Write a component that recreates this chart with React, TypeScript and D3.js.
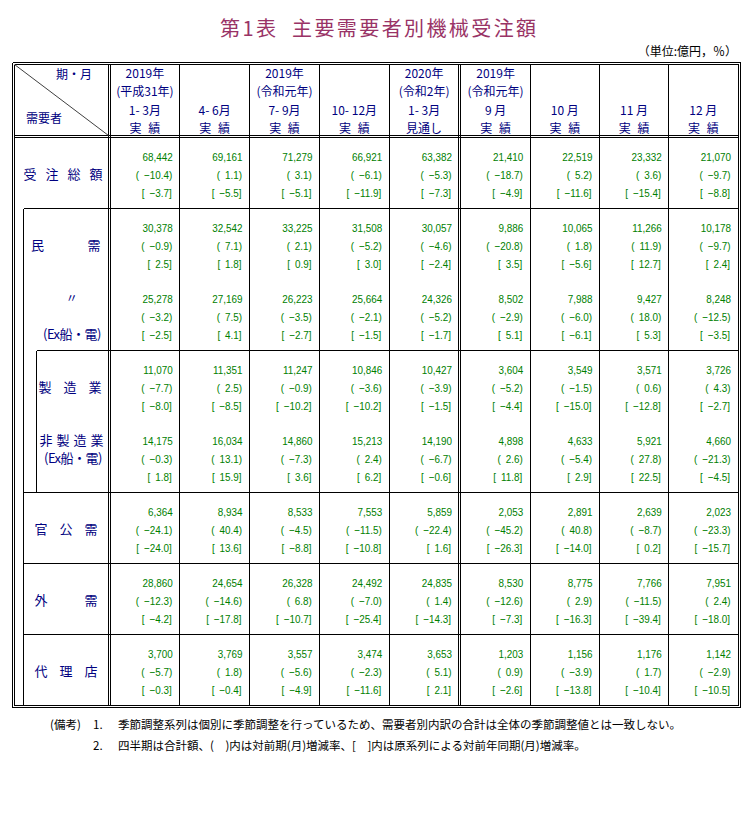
import React from "react";
import * as d3 from "d3";

// ---------- column header texts ----------
const yearLabels = ["2019年", "", "2019年", "", "2020年", "2019年", "", "", ""];
const eraLabels = ["(平成31年)", "", "(令和元年)", "", "(令和2年)", "(令和元年)", "", "", ""];
const periodLabels = ["1- 3月", "4- 6月", "7- 9月", "10- 12月", "1- 3月", "9 月", "10 月", "11 月", "12 月"];
const statusLabels = ["実 績", "実 績", "実 績", "実 績", "見通し", "実 績", "実 績", "実 績", "実 績"];

// ---------- row keys ----------
const rowKeys = ["total", "private", "privateEx", "mfg", "nonmfg", "public", "foreign", "agency"];

// ---------- values (億円, %) ----------
const totalAmount = [68442, 69161, 71279, 66921, 63382, 21410, 22519, 23332, 21070];
const totalQoQ = [-10.4, 1.1, 3.1, -6.1, -5.3, -18.7, 5.2, 3.6, -9.7];
const totalYoY = [-3.7, -5.5, -5.1, -11.9, -7.3, -4.9, -11.6, -15.4, -8.8];

const privateAmount = [30378, 32542, 33225, 31508, 30057, 9886, 10065, 11266, 10178];
const privateQoQ = [-0.9, 7.1, 2.1, -5.2, -4.6, -20.8, 1.8, 11.9, -9.7];
const privateYoY = [2.5, 1.8, 0.9, 3.0, -2.4, 3.5, -5.6, 12.7, 2.4];

const privateExAmount = [25278, 27169, 26223, 25664, 24326, 8502, 7988, 9427, 8248];
const privateExQoQ = [-3.2, 7.5, -3.5, -2.1, -5.2, -2.9, -6.0, 18.0, -12.5];
const privateExYoY = [-2.5, 4.1, -2.7, -1.5, -1.7, 5.1, -6.1, 5.3, -3.5];

const mfgAmount = [11070, 11351, 11247, 10846, 10427, 3604, 3549, 3571, 3726];
const mfgQoQ = [-7.7, 2.5, -0.9, -3.6, -3.9, -5.2, -1.5, 0.6, 4.3];
const mfgYoY = [-8.0, -8.5, -10.2, -10.2, -1.5, -4.4, -15.0, -12.8, -2.7];

const nonmfgAmount = [14175, 16034, 14860, 15213, 14190, 4898, 4633, 5921, 4660];
const nonmfgQoQ = [-0.3, 13.1, -7.3, 2.4, -6.7, 2.6, -5.4, 27.8, -21.3];
const nonmfgYoY = [1.8, 15.9, 3.6, 6.2, -0.6, 11.8, 2.9, 22.5, -4.5];

const publicAmount = [6364, 8934, 8533, 7553, 5859, 2053, 2891, 2639, 2023];
const publicQoQ = [-24.1, 40.4, -4.5, -11.5, -22.4, -45.2, 40.8, -8.7, -23.3];
const publicYoY = [-24.0, 13.6, -8.8, -10.8, 1.6, -26.3, -14.0, 0.2, -15.7];

const foreignAmount = [28860, 24654, 26328, 24492, 24835, 8530, 8775, 7766, 7951];
const foreignQoQ = [-12.3, -14.6, 6.8, -7.0, 1.4, -12.6, 2.9, -11.5, 2.4];
const foreignYoY = [-4.2, -17.8, -10.7, -25.4, -14.3, -7.3, -16.3, -39.4, -18.0];

const agencyAmount = [3700, 3769, 3557, 3474, 3653, 1203, 1156, 1176, 1142];
const agencyQoQ = [-5.7, 1.8, -5.6, -2.3, 5.1, 0.9, -3.9, 1.7, -2.9];
const agencyYoY = [-0.3, -0.4, -4.9, -11.6, 2.1, -2.6, -13.8, -10.4, -10.5];

// ---------- texts ----------
const titleText = "第1表  主要需要者別機械受注額";
const unitText = "（単位:億円，％）";
const note1 = "季節調整系列は個別に季節調整を行っているため、需要者別内訳の合計は全体の季節調整値とは一致しない。";
const note2 = "四半期は合計額、(　)内は対前期(月)増減率、[　]内は原系列による対前年同期(月)増減率。";

const FONT_JP = "'Noto Sans CJK JP', 'Noto Sans', sans-serif";
const FONT_NUM = "'Liberation Sans', Arial, sans-serif";
const NAVY = "#000080";
const GREEN = "#008000";
const TITLE = "#993366";

const rows = [
  { key: "total", amt: totalAmount, qoq: totalQoQ, yoy: totalYoY },
  { key: "private", amt: privateAmount, qoq: privateQoQ, yoy: privateYoY },
  { key: "privateEx", amt: privateExAmount, qoq: privateExQoQ, yoy: privateExYoY },
  { key: "mfg", amt: mfgAmount, qoq: mfgQoQ, yoy: mfgYoY },
  { key: "nonmfg", amt: nonmfgAmount, qoq: nonmfgQoQ, yoy: nonmfgYoY },
  { key: "public", amt: publicAmount, qoq: publicQoQ, yoy: publicYoY },
  { key: "foreign", amt: foreignAmount, qoq: foreignQoQ, yoy: foreignYoY },
  { key: "agency", amt: agencyAmount, qoq: agencyQoQ, yoy: agencyYoY },
];

const fmtAmt = d3.format(",");
const fmtPct = (v: number) => {
  const s = d3.format(".1f")(Math.abs(v));
  return (v < 0 ? "\u2212" : "") + s;
};

const px = (v: number) => Math.floor(v) + 0.5;

function Spread({ chars, x0, x1, y, size = 13 }: { chars: string[]; x0: number; x1: number; y: number; size?: number }) {
  const s = d3.scalePoint<number>().domain(d3.range(chars.length)).range([x0, x1]);
  return (
    <g>
      {chars.map((c, i) => (
        <text key={i} x={s(i)} y={y} textAnchor="middle" fontFamily={FONT_JP} fontSize={size} fill={NAVY}>
          {c}
        </text>
      ))}
    </g>
  );
}

export default function App() {
  const W = 753;
  const H = 820;

  // scales
  const xQ = d3.scaleBand<number>().domain(d3.range(0, 5)).range([110, 459]);
  const xM = d3.scaleBand<number>().domain(d3.range(5, 9)).range([461, 738]);
  const colX = (i: number) => (i < 5 ? (xQ(i) as number) : (xM(i) as number));
  const colW = (i: number) => (i < 5 ? xQ.bandwidth() : xM.bandwidth());
  const y = d3.scaleBand<string>().domain(rowKeys).range([137, 705]);
  const yy = (k: string) => y(k) as number;
  const lineOff = [24, 42, 60];
  const padR = [7, 7.5, 8];

  const left0 = 12, left1 = 14, right1 = 738, right0 = 740;
  const top0 = 62, top1 = 64, bot1 = 705, bot0 = 707;
  const headBot = 135, headBot2 = 137;
  const stubA = 108, stubB = 110;
  const sepA = 458, sepB = 460;
  const indent1 = 23, indent2 = 36;

  type Seg = { x1: number; y1: number; x2: number; y2: number };
  const segs: Seg[] = [];
  // outer double border
  [[left0, top0, right0, bot0], [left1, top1, right1, bot1]].forEach(([a, b, c, d]) => {
    segs.push({ x1: px(a), y1: px(b), x2: px(c), y2: px(b) });
    segs.push({ x1: px(a), y1: px(d), x2: px(c), y2: px(d) });
    segs.push({ x1: px(a), y1: px(b), x2: px(a), y2: px(d) });
    segs.push({ x1: px(c), y1: px(b), x2: px(c), y2: px(d) });
  });
  // header bottom double
  [headBot, headBot2].forEach((v) => segs.push({ x1: px(left1), y1: px(v), x2: px(right1), y2: px(v) }));
  // stub double & block separator double
  [stubA, stubB, sepA, sepB].forEach((v) => segs.push({ x1: px(v), y1: px(top1), x2: px(v), y2: px(bot1) }));
  // inner column lines
  d3.range(1, 5).forEach((i) => segs.push({ x1: px(colX(i)), y1: px(top1), x2: px(colX(i)), y2: px(bot1) }));
  d3.range(6, 9).forEach((i) => segs.push({ x1: px(colX(i)), y1: px(top1), x2: px(colX(i)), y2: px(bot1) }));
  // row lines
  const rowLineStart: Record<string, number> = { private: indent1, mfg: indent2, public: indent1, foreign: indent1, agency: indent1 };
  Object.keys(rowLineStart).forEach((k) => {
    segs.push({ x1: px(rowLineStart[k]), y1: px(yy(k)), x2: px(right1), y2: px(yy(k)) });
  });
  // stub indent verticals
  segs.push({ x1: px(indent1), y1: px(yy("private")), x2: px(indent1), y2: px(bot1) });
  segs.push({ x1: px(indent2), y1: px(yy("mfg")), x2: px(indent2), y2: px(yy("public")) });

  const headerY = [77.5, 95.5, 114.5, 132.8];
  const headerLines = [yearLabels, eraLabels, periodLabels, statusLabels];

  return (
    <svg width={W} height={H} style={{ position: "absolute", left: 0, top: 0, background: "#fff" }}>
      <rect x={0} y={0} width={W} height={H} fill="#fff" />
      {/* title */}
      <text x={220} y={36} fontFamily={FONT_JP} fontSize={20} letterSpacing={2.4} fill={TITLE} style={{ whiteSpace: "pre" }}>
        {titleText}
      </text>
      <text x={737} y={56} textAnchor="end" fontFamily={FONT_JP} fontSize={12} fill="#000">
        {unitText}
      </text>

      {/* grid */}
      <g stroke="#000" strokeWidth={1} shapeRendering="crispEdges">
        {segs.map((s, i) => (
          <line key={i} x1={s.x1} y1={s.y1} x2={s.x2} y2={s.y2} />
        ))}
      </g>
      <line x1={left1 + 0.5} y1={top1 + 0.5} x2={stubA + 0.5} y2={headBot + 0.5} stroke="#404040" strokeWidth={1} />

      {/* header stub */}
      <text x={92} y={78.5} textAnchor="end" fontFamily={FONT_JP} fontSize={12} fill={NAVY}>期・月</text>
      <text x={26} y={122.5} fontFamily={FONT_JP} fontSize={12} fill={NAVY}>需要者</text>

      {/* column headers */}
      {d3.range(9).map((i) =>
        headerLines.map((arr, li) =>
          arr[i] ? (
            <text
              key={`h${i}-${li}`}
              x={colX(i) + colW(i) / 2}
              y={headerY[li]}
              textAnchor="middle"
              fontFamily={FONT_JP}
              fontSize={12}
              fill={NAVY}
              wordSpacing={li === 3 ? 4 : 0}
              style={{ whiteSpace: "pre" }}
            >
              {arr[i]}
            </text>
          ) : null
        )
      )}

      {/* stub labels */}
      <Spread chars={["受", "注", "総", "額"]} x0={30} x1={96} y={yy("total") + 42} />
      <Spread chars={["民", "需"]} x0={37.5} x1={94} y={yy("private") + 42} />
      <text x={71.7} y={yy("privateEx") + 24} textAnchor="middle" fontFamily={FONT_JP} fontSize={12} fill={NAVY}>〃</text>
      <text x={101} y={yy("privateEx") + 60} textAnchor="end" fontFamily={FONT_JP} fontSize={13} letterSpacing={-0.5} fill={NAVY}>(Ex船・電)</text>
      <Spread chars={["製", "造", "業"]} x0={45} x1={95} y={yy("mfg") + 42} />
      <Spread chars={["非", "製", "造", "業"]} x0={46} x1={97} y={yy("nonmfg") + 24} />
      <text x={102} y={yy("nonmfg") + 42} textAnchor="end" fontFamily={FONT_JP} fontSize={13} letterSpacing={-0.5} fill={NAVY}>(Ex船・電)</text>
      <Spread chars={["官", "公", "需"]} x0={41} x1={91} y={yy("public") + 42} />
      <Spread chars={["外", "需"]} x0={41} x1={91} y={yy("foreign") + 42} />
      <Spread chars={["代", "理", "店"]} x0={41} x1={91} y={yy("agency") + 42} />

      {/* data */}
      {rows.map((r) =>
        d3.range(9).map((i) => {
          const xr = colX(i) + colW(i);
          const texts = [fmtAmt(r.amt[i]), `(\u2002${fmtPct(r.qoq[i])})`, `[\u2002${fmtPct(r.yoy[i])}]`];
          return texts.map((t, li) => (
            <text
              key={`${r.key}-${i}-${li}`}
              transform={`translate(${xr - padR[li]},${yy(r.key) + lineOff[li]}) scale(0.86,1)`}
              textAnchor="end"
              fontFamily={FONT_NUM}
              fontSize={11.5}
              fill={GREEN}
              style={{ whiteSpace: "pre" }}
            >
              {t}
            </text>
          ));
        })
      )}

      {/* notes */}
      <g fontFamily={FONT_JP} fontSize={11.5} fill="#000">
        <text x={50} y={728.5}>(備考)</text>
        <text x={93} y={728.5}>1.</text>
        <text x={118} y={728.5}>{note1}</text>
        <text x={93} y={750}>2.</text>
        <text x={118} y={750} style={{ whiteSpace: "pre" }}>{note2}</text>
      </g>
    </svg>
  );
}
